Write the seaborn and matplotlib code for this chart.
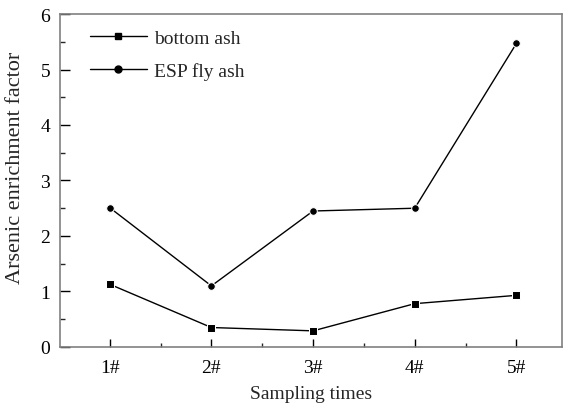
import numpy as np
import pandas as pd
import seaborn as sns
import matplotlib.pyplot as plt
from matplotlib.ticker import MultipleLocator
from matplotlib.lines import Line2D

samples = ['1#', '2#', '3#', '4#', '5#']
bottom_ash = [1.13, 0.35, 0.29, 0.78, 0.93]
esp_fly_ash = [2.51, 1.10, 2.45, 2.50, 5.47]

sns.set_style('ticks')
plt.rcParams['font.family'] = ['Liberation Serif', 'DejaVu Serif']

df = pd.DataFrame({
    'x': list(range(1, 6)) * 2,
    'y': bottom_ash + esp_fly_ash,
    'series': ['bottom ash'] * 5 + ['ESP fly ash'] * 5,
})

fig = plt.figure(figsize=(5.65, 4.06), dpi=100)
ax = fig.add_axes([0.106, 0.143, 0.889, 0.820])

sns.lineplot(data=df, x='x', y='y', style='series', markers=['s', 'o'],
             dashes=False, color='black', linewidth=1.0, markersize=5.5,
             ax=ax, legend=False)

# legend drawn by hand so the handles look like the original
handles = [Line2D([], [], color='black', lw=1.0, marker='s', ms=5),
           Line2D([], [], color='black', lw=1.0, marker='o', ms=5)]
ax.legend(handles, ['bottom ash', 'ESP fly ash'], loc='upper left',
          frameon=False, fontsize=14, handlelength=2.9, handletextpad=0.4,
          labelspacing=0.75, borderaxespad=0, bbox_to_anchor=(0.045, 0.977))

ax.set_xlim(0.51, 5.45)
ax.set_ylim(0, 6)
ax.set_xticks(range(1, 6))
ax.set_xticklabels(samples)
ax.xaxis.set_minor_locator(MultipleLocator(0.5))
ax.yaxis.set_major_locator(MultipleLocator(1))
ax.yaxis.set_minor_locator(MultipleLocator(0.5))
ax.tick_params(which='major', direction='in', length=7, width=1, labelsize=14, colors='black')
ax.tick_params(which='minor', direction='in', length=3.5, width=1)
ax.tick_params(axis='x', which='major', length=6, pad=9)
ax.tick_params(axis='x', which='minor', length=3)
ax.tick_params(axis='y', which='major', pad=7)

for s in ax.spines.values():
    s.set_color('#808080')
    s.set_linewidth(1.2)

ax.set_xlabel('Sampling times', fontsize=14, labelpad=6)
ax.set_ylabel('Arsenic enrichment factor', fontsize=16)
ax.yaxis.set_label_coords(-0.07, 0.54)

plt.savefig('out.png', dpi=100)
